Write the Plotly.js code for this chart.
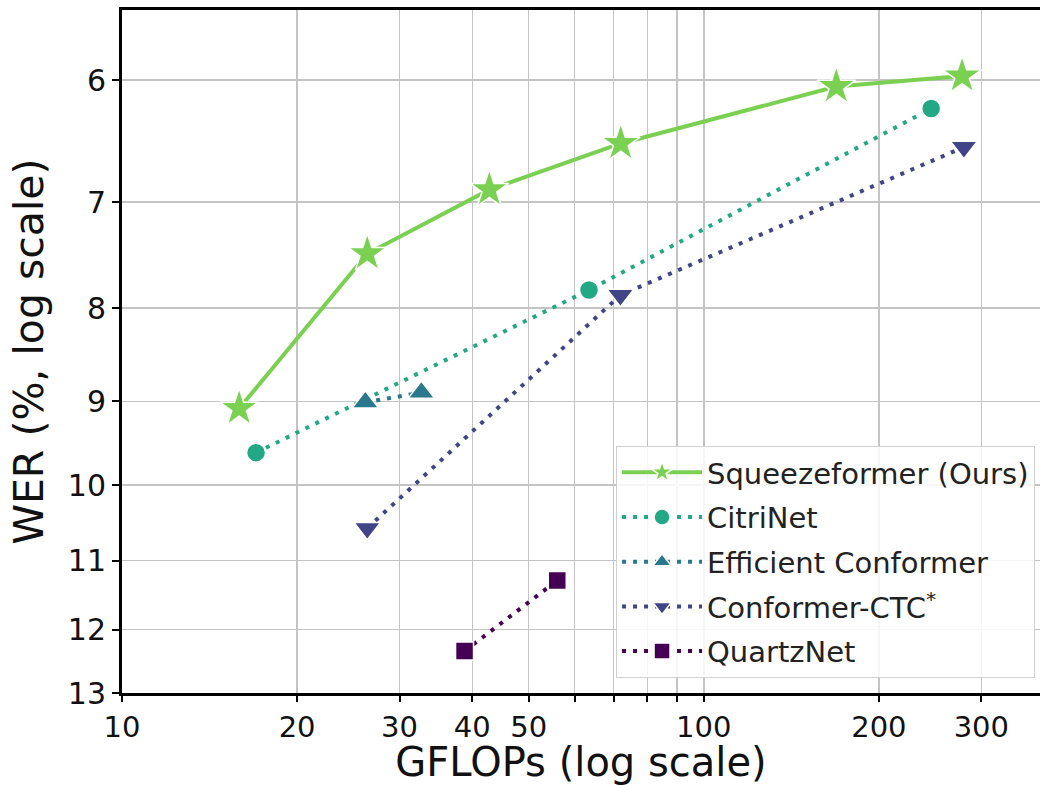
<!DOCTYPE html>
<html>
<head>
<meta charset="utf-8">
<script src="https://cdn.plot.ly/plotly-3.0.1.min.js"></script>
<style>html,body{margin:0;padding:0;background:#fff;}#chart{width:1040px;height:785px;}</style>
</head>
<body>
<div id="chart"></div>
<script>
// Data (GFLOPs, WER %)
const squeezeX = [15.9, 26.4, 42.8, 72.0, 169, 278];
const squeezeY = [9.08, 7.47, 6.89, 6.50, 6.05, 5.97];
const citriX = [17.0, 63.5, 246];
const citriY = [9.60, 7.82, 6.22];
const effX = [26.2, 32.7];
const effY = [9.01, 8.90];
const confX = [26.4, 71.9, 280];
const confY = [10.56, 7.87, 6.53];
const quartzX = [38.8, 56.0];
const quartzY = [12.33, 11.28];

const xTickVals = [10, 20, 30, 40, 50, 100, 200, 300];
const xTickText = ['10', '20', '30', '40', '50', '100', '200', '300'];
const xMinorVals = [60, 70, 80, 90];
const yTickVals = [6, 7, 8, 9, 10, 11, 12, 13];
const yTickText = ['6', '7', '8', '9', '10', '11', '12', '13'];

const names = ['Squeezeformer (Ours)', 'CitriNet', 'Efficient Conformer', 'Conformer-CTC<sup>*</sup>', 'QuartzNet'];
const colors = ['#7ad151', '#22a884', '#2a788e', '#414487', '#440154'];

const dotted = '4px,7px';
function tr(x, y, i, symbol, size, dash) {
  return {
    x: x, y: y, name: names[i], type: 'scatter', mode: 'lines+markers',
    legendgroup: 'g' + i,
    line: {color: colors[i], width: 4, dash: dash},
    marker: {symbol: symbol, size: size, color: colors[i], line: {color: '#ffffff', width: 1.5}}
  };
}

const data = [
  tr(squeezeX, squeezeY, 0, 'star', 29, 'solid'),
  tr(citriX, citriY, 1, 'circle', 19, dotted),
  tr(effX, effY, 2, 'triangle-up', 23, dotted),
  tr(confX, confY, 3, 'triangle-down', 23, dotted),
  tr(quartzX, quartzY, 4, 'square', 18, dotted)
];

const font = 'DejaVu Sans, sans-serif';
const layout = {
  width: 1040, height: 785,
  margin: {l: 122, r: 0, t: 10, b: 92},
  paper_bgcolor: '#ffffff', plot_bgcolor: '#ffffff',
  font: {family: font, color: '#111111'},
  showlegend: true,
  legend: {
    x: 0.9946, y: 0.022, xanchor: 'right', yanchor: 'bottom',
    bgcolor: 'rgba(255,255,255,0.85)', bordercolor: '#d0d0d0', borderwidth: 1,
    font: {family: font, size: 29, color: '#222222'},
    itemwidth: 80, tracegroupgap: 4
  },
  xaxis: {
    type: 'log', range: [1.0, 2.578],
    tickvals: xTickVals, ticktext: xTickText, tickangle: 0,
    minor: {tickvals: xMinorVals, showgrid: true, gridcolor: '#c4c4c4', gridwidth: 1.5,
            ticks: 'outside', ticklen: 6, tickwidth: 2, tickcolor: '#000000'},
    showgrid: true, gridcolor: '#c4c4c4', gridwidth: 1.5,
    showline: true, linecolor: '#000000', linewidth: 3, mirror: true,
    ticks: 'outside', ticklen: 6, tickwidth: 2, tickcolor: '#000000',
    tickfont: {family: font, size: 29, color: '#111111'},
    zeroline: false,
    title: {text: 'GFLOPs (log scale)', font: {family: font, size: 40, color: '#111111'}, standoff: 12}
  },
  yaxis: {
    type: 'log', range: [Math.log10(13), 0.7398],
    tickvals: yTickVals, ticktext: yTickText, tickangle: 0,
    showgrid: true, gridcolor: '#c4c4c4', gridwidth: 1.5,
    showline: true, linecolor: '#000000', linewidth: 3, mirror: false,
    ticks: 'outside', ticklen: 7, tickwidth: 2, tickcolor: '#000000',
    tickfont: {family: font, size: 30, color: '#111111'},
    zeroline: false,
    title: {text: 'WER (%, log scale)', font: {family: font, size: 41, color: '#111111'}, standoff: 12}
  }
};

Plotly.newPlot('chart', data, layout, {displayModeBar: false, staticPlot: true});
</script>
</body>
</html>
